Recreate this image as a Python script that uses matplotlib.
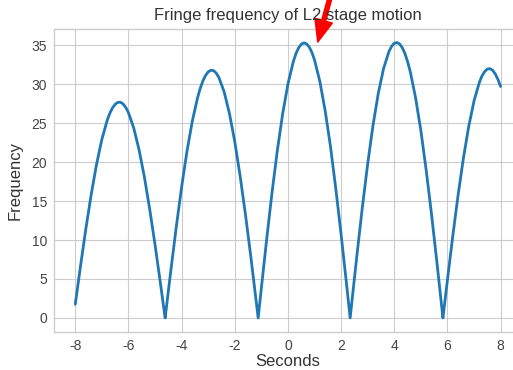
import matplotlib.pyplot as plt

# Values (time in s, fringe frequency)
seconds = [
    -8.0, -7.8, -7.6, -7.4, -7.2, -7.0, -6.8, -6.7, -6.6, -6.5, -6.4, -6.3,
    -6.2, -6.1, -6.0, -5.8, -5.6, -5.4, -5.2, -5.0, -4.8, -4.62,
    -4.6, -4.4, -4.2, -4.0, -3.8, -3.6, -3.4, -3.3, -3.2, -3.1, -3.0, -2.9,
    -2.8, -2.7, -2.6, -2.4, -2.2, -2.0, -1.8, -1.6, -1.4, -1.2, -1.12,
    -1.0, -0.8, -0.6, -0.4, -0.2, 0.0, 0.2, 0.3, 0.4, 0.5, 0.6, 0.7,
    0.8, 0.9, 1.0, 1.2, 1.4, 1.6, 1.8, 2.0, 2.2, 2.34,
    2.4, 2.6, 2.8, 3.0, 3.2, 3.4, 3.6, 3.8, 3.9, 4.0, 4.1, 4.2,
    4.3, 4.4, 4.5, 4.6, 4.8, 5.0, 5.2, 5.4, 5.6, 5.8, 5.83,
    6.0, 6.2, 6.4, 6.6, 6.8, 7.0, 7.2, 7.3, 7.4, 7.5, 7.6, 7.7,
    7.8, 7.9, 8.0,
]
frequency = [
    1.76, 6.74, 11.50, 15.87, 19.72, 22.92, 25.36, 26.27, 26.96, 27.42, 27.67, 27.68,
    27.46, 27.01, 26.34, 24.36, 21.56, 18.08, 13.94, 9.40, 4.52, 0.0,
    0.57, 6.24, 11.71, 16.80, 21.35, 25.22, 28.26, 29.46, 30.42, 31.12, 31.58, 31.79,
    31.74, 31.43, 30.87, 29.02, 26.22, 22.61, 18.23, 13.32, 7.95, 2.28, 0.0,
    3.84, 10.11, 16.06, 21.47, 26.17, 30.02, 32.87, 33.91, 34.66, 35.12, 35.30, 35.18,
    34.77, 34.08, 33.10, 30.36, 26.60, 22.00, 16.59, 10.71, 4.47, 0.0,
    1.91, 8.20, 14.23, 19.79, 24.72, 28.85, 32.04, 34.19, 34.86, 35.25, 35.35, 35.16,
    34.69, 33.94, 32.90, 31.63, 28.28, 24.05, 18.98, 13.34, 7.26, 0.95, 0.0,
    4.89, 10.49, 15.75, 20.49, 24.57, 27.85, 30.23, 31.06, 31.62, 31.94, 31.99, 31.78,
    31.31, 30.60, 29.70,
]

plt.style.use("seaborn-v0_8-whitegrid")
plt.rcParams["font.family"] = ["Liberation Sans", "DejaVu Sans"]
plt.rcParams["axes.unicode_minus"] = False

fig = plt.figure(figsize=(5.13, 3.70), dpi=100)
ax = fig.add_axes([0.1053, 0.1035, 0.912, 0.8189])

ax.plot(seconds, frequency, color="#1f77b4", linewidth=2.0)

ax.set_title("Fringe frequency of L2 stage motion", fontsize=12, color="#333333")
ax.set_xlabel("Seconds", fontsize=12, color="#333333", labelpad=1)
ax.set_ylabel("Frequency", fontsize=12, color="#333333", labelpad=6)
ax.set_xticks([-8, -6, -4, -2, 0, 2, 4, 6, 8])
ax.set_yticks([0, 5, 10, 15, 20, 25, 30, 35])
ax.tick_params(labelsize=10, labelcolor="#444444", pad=5)

# red arrow pointing at the third peak, its text sits above the crop
ax.annotate("", xy=(1.12, 35.4), xytext=(1.9, 45.0),
            arrowprops=dict(facecolor="red", edgecolor="red", shrink=0.0,
                            width=3, headwidth=13, headlength=16),
            annotation_clip=False)

fig.savefig("out.png", dpi=100)
